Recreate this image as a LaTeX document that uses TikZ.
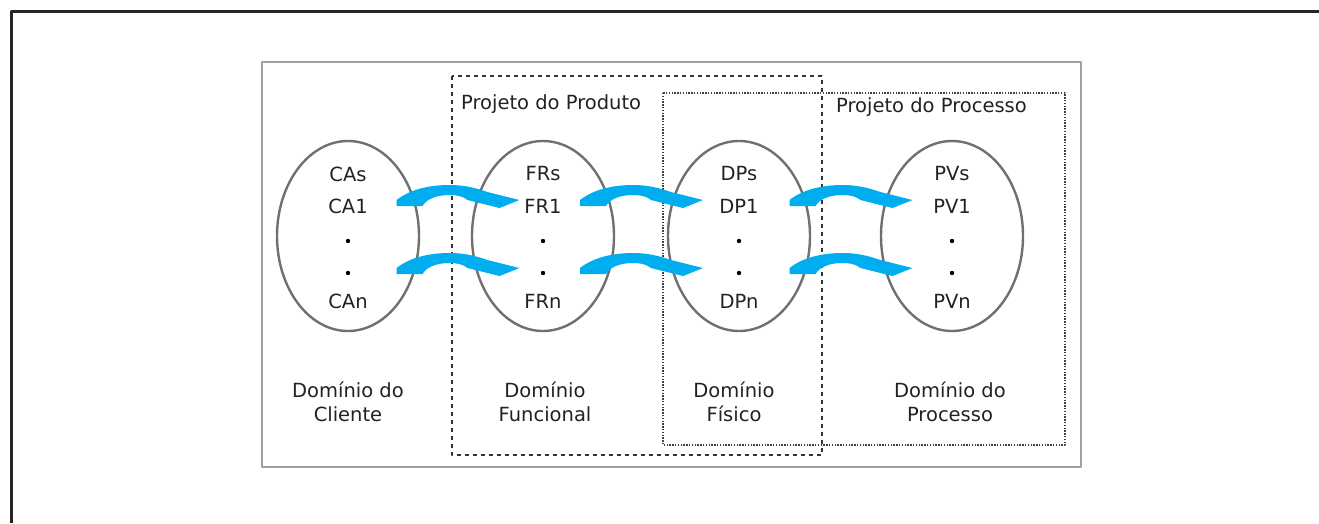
\documentclass[tikz,border=0pt]{standalone}
\usepackage{fontspec}
\setmainfont{DejaVu Sans}
\usetikzlibrary{shapes.geometric,calc}
\definecolor{azul}{HTML}{00AEEF}
\definecolor{cinza}{HTML}{707070}
\definecolor{moldura}{HTML}{A0A0A0}
\definecolor{texto}{HTML}{222222}
\tikzset{flecha/.pic={
	\fill[azul] (0,1) -- (0,-5) .. controls (14,-16) and (34,-20) .. (53,-20) .. controls (70,-20) and (82,-16) .. (91,-13) -- (123,-5) -- (103,3) -- (71,-5) .. controls (66,-9) and (60,-10) .. (53,-10) .. controls (40,-10) and (30,-6) .. (26,1) -- cycle;
}}
\begin{document}
\begin{tikzpicture}[x=1pt, y=-1pt, line join=round, text=texto, font=\fontsize{19.5}{24}\selectfont,
	dominio/.style={ellipse, draw=cinza, line width=2.4pt, minimum width=142pt, minimum height=190pt, inner sep=0pt},
	rotulo/.style={align=center, inner sep=0pt}]
	\useasboundingbox (0,0) rectangle (1319,523);
	\draw[line width=3pt, black!85] (11,523) -- (11,11) -- (1319,11);
	\draw[line width=2pt, moldura] (262,62) rectangle (1081,467);
	\draw[line width=1.6pt, black!80, dash pattern=on 4pt off 4pt] (452,76) rectangle (822,455);
	\draw[line width=1.6pt, black!75, dash pattern=on 1.4pt off 1.4pt] (663,93) rectangle (1065,445);
	\node[anchor=west, inner sep=0pt] (prod) at (461,104) {Projeto do Produto};
	\node[anchor=west, inner sep=0pt] (proc) at (836,107) {Projeto do Processo};
	\foreach \n/\x/\s in {1/348/CA, 2/543/FR, 3/739/DP, 4/952/PV}{
		\node[dominio] (e\n) at (\x,236) {};
		\node (\s s) at (\x,174) {\s s};
		\node (\s 1) at (\x,206) {\s 1};
		\node (\s n) at (\x,301) {\s n};
		\fill (\x,241) circle (2.2pt) (\x,273) circle (2.2pt);
	}
	\node[rotulo] (dc) at (348,402) {Domínio do\\Cliente};
	\node[rotulo] (df) at (545,402) {Domínio\\Funcional};
	\node[rotulo] (dfi) at (734,402) {Domínio\\Físico};
	\node[rotulo] (dp) at (950,402) {Domínio do\\Processo};
	\foreach \a/\b/\d in {e1/e2/-49, e2/e3/-61, e3/e4/-56}{
		\path ($(\a)!0.5!(\b)$) ++(\d,-31) pic {flecha};
		\path ($(\a)!0.5!(\b)$) ++(\d,37) pic {flecha};
	}
\end{tikzpicture}
\end{document}
